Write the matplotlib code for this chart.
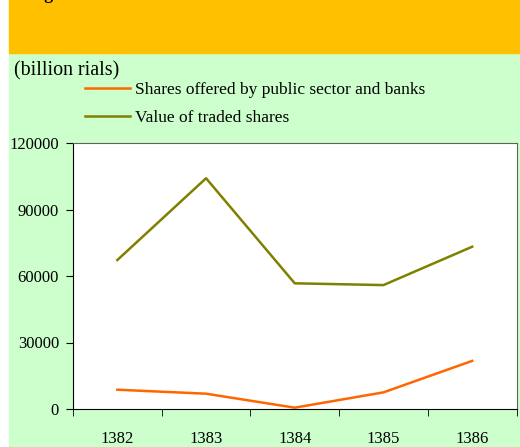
import matplotlib.pyplot as plt
from matplotlib.patches import Rectangle

years = ['1382', '1383', '1384', '1385', '1386']
public_banks = [8700, 6900, 600, 7500, 21700]
traded_value = [67200, 104100, 56700, 55900, 73200]
yticks = [0, 30000, 60000, 90000, 120000]

plt.rcParams['font.family'] = ['Liberation Serif', 'DejaVu Serif']

W, H = 520, 447
fig = plt.figure(figsize=(W / 100, H / 100), dpi=100, facecolor='white')

# background bands (behind the axes)
fig.patches.append(Rectangle((9 / W, 0), 1 - 9 / W, (H - 53) / H,
                             transform=fig.transFigure, color='#CCFFCC', zorder=-2))
fig.patches.append(Rectangle((9 / W, (H - 53) / H), 1 - 9 / W, 53 / H,
                             transform=fig.transFigure, color='#FFC000', zorder=-2))
fig.text(29 / W, (H + 1) / H, 'Fig', fontsize=13, fontweight='bold', va='baseline', ha='left')

ax = fig.add_axes([73 / W, (H - 409) / H, 443.5 / W, 266 / H])
ax.set_facecolor('white')
x = list(range(1, len(years) + 1))
ax.plot(x, public_banks, color='#FF6600', lw=1.8, label='Shares offered by public sector and banks')
ax.plot(x, traded_value, color='#808000', lw=1.8, label='Value of traded shares')

ax.set_xlim(0.5, len(years) + 0.5)
ax.set_ylim(0, 120000)
ax.set_yticks(yticks)
ax.set_yticklabels([str(v) for v in yticks], fontsize=12)
ax.set_xticks(x)
ax.set_xticklabels(years, fontsize=12)
ax.tick_params(axis='x', which='major', length=0, pad=16)
ax.set_xticks([i + 0.5 for i in range(0, len(years) + 1)], minor=True)
ax.tick_params(axis='x', which='minor', length=5, direction='out')
ax.tick_params(axis='y', length=5, direction='out', pad=5)
for s in ['top', 'right']:
    ax.spines[s].set_color('#606060')

fig.text(14 / W, (H - 71) / H, '(billion rials)', fontsize=14.4, va='center')
leg = fig.legend(loc='upper left', bbox_to_anchor=(85 / W, (H - 81.5) / H), frameon=False,
                 fontsize=12.5, handlelength=2.6, handletextpad=0.3, labelspacing=0.72,
                 borderaxespad=0, borderpad=0)

fig.savefig('out.png', dpi=100, facecolor=fig.get_facecolor())
